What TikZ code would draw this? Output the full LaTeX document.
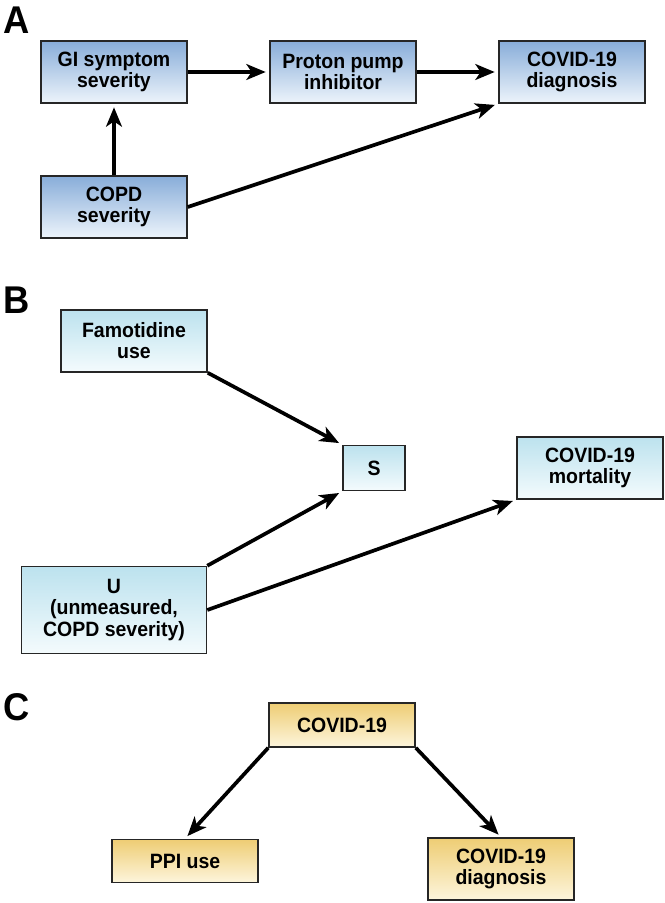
\documentclass[tikz,border=0pt]{standalone}
\usepackage{fontspec}
\setmainfont[FakeStretch=0.94]{Liberation Sans}
\usetikzlibrary{arrows.meta}

\definecolor{blueTop}{HTML}{88ADD9}
\definecolor{blueBot}{HTML}{EDF4FB}
\definecolor{cyanTop}{HTML}{BCE2EE}
\definecolor{cyanBot}{HTML}{F4FBFD}
\definecolor{goldTop}{HTML}{EECD74}
\definecolor{goldBot}{HTML}{FDF5DC}

\begin{document}
\begin{tikzpicture}[
        x=0.02cm, y=-0.02cm,
        box/.style={draw=black!85, line width=0.9pt, align=center, inner sep=2pt,
            font=\bfseries\fontsize{11.8}{12}\selectfont,
            minimum width=2.92cm, minimum height=1.24cm},
        boxA/.style={box, top color=blueTop, bottom color=blueBot},
        boxB/.style={box, top color=cyanTop, bottom color=cyanBot},
        boxC/.style={box, top color=goldTop, bottom color=goldBot},
        arr/.style={-{Stealth[length=11pt,width=9pt,inset=3pt]}, line width=2.1pt, shorten >=2pt},
        panel/.style={font=\bfseries\fontsize{22}{22}\selectfont, inner sep=0pt}]

        \useasboundingbox (0,0) rectangle (664,903);

        % A
        \node[panel] (pa) at (17,20) {A};
        \node[boxA] (gi) at (114,72) {GI symptom\\severity};
        \node[boxA] (ppi) at (343,72) {Proton pump\\inhibitor};
        \node[boxA] (diagA) at (572,72) {COVID-19\\diagnosis};
        \node[boxA] (copd) at (114,207) {COPD\\severity};

        \draw[arr] (gi) to (ppi);
        \draw[arr] (ppi) to (diagA);
        \draw[arr] (copd) to (gi);
        \draw[arr] (copd.east) to (diagA.south west);

        % B
        \node[panel] (pb) at (17,300) {B};
        \node[boxB] (famo) at (134,341) {Famotidine\\use};
        \node[boxB, minimum width=1.24cm, minimum height=0.9cm] (s) at (374,468) {S};
        \node[boxB] (mort) at (590,468) {COVID-19\\mortality};
        \node[boxB, minimum width=3.7cm, minimum height=1.74cm] (u) at (114,610)
            {U\\(unmeasured,\\COPD severity)};

        \draw[arr] (famo.south east) to (s.north west);
        \draw[arr] (u.north east) to (s.south west);
        \draw[arr] (u.east) to (mort.south west);

        % C
        \node[panel] (pc) at (17,707) {C};
        \node[boxC, minimum height=0.88cm] (cov) at (342,725) {COVID-19};
        \node[boxC, minimum height=0.86cm] (ppiuse) at (185,861) {PPI use};
        \node[boxC] (diagC) at (501,869) {COVID-19\\diagnosis};

        \draw[arr] (cov.south west) to (ppiuse.north);
        \draw[arr] (cov.south east) to (diagC.north);

    \end{tikzpicture}
\end{document}
